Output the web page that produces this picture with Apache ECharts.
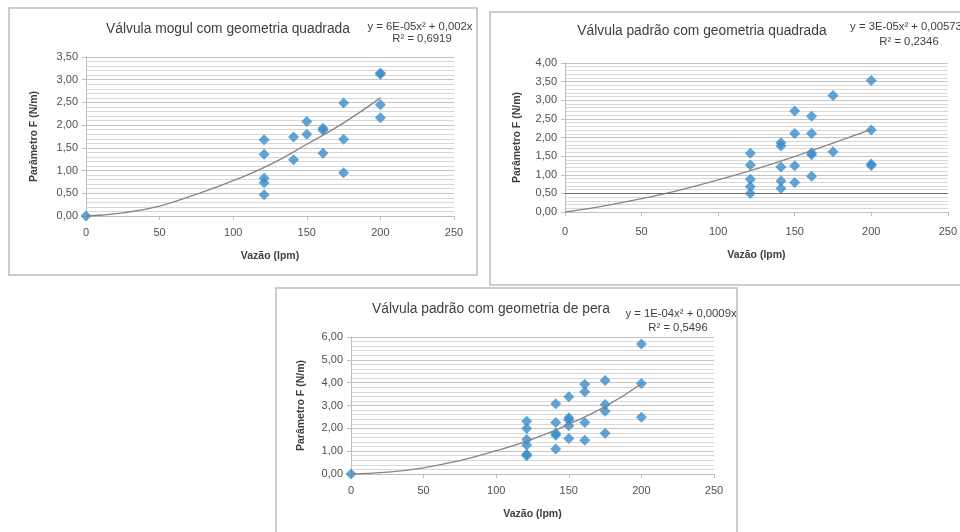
<!DOCTYPE html>
<html>
<head>
<meta charset="utf-8">
<script src="https://cdn.jsdelivr.net/npm/echarts@6/dist/echarts.min.js"></script>
<style>
html,body{margin:0;padding:0;background:#fff;}
#chart{width:960px;height:532px;}
</style>
</head>
<body>
<div id="chart"></div>
<script>
// ---- Data ----
// Chart 1: Válvula mogul com geometria quadrada
const mogulX = [0,121,121,121,121,121,141,141,150,150,161,161,161,175,175,175,200,200,200,200];
const mogulY = [0,1.68,1.36,0.83,0.73,0.47,1.74,1.24,2.08,1.80,1.93,1.89,1.38,2.49,1.69,0.95,3.15,3.12,2.45,2.16];
// Chart 2: Válvula padrão com geometria quadrada
const padraoX = [121,121,121,121,121,141,141,141,141,141,150,150,150,150,161,161,161,161,161,175,175,200,200,200,200];
const padraoY = [1.58,1.26,0.88,0.68,0.50,1.86,1.77,1.21,0.83,0.63,2.71,2.11,1.24,0.79,2.57,2.11,1.59,1.54,0.96,3.13,1.62,3.53,2.20,1.29,1.25];
// Chart 3: Válvula padrão com geometria de pera
const peraX = [0,121,121,121,121,121,121,141,141,141,141,141,150,150,150,150,150,161,161,161,161,175,175,175,175,200,200,200];
const peraY = [0,2.31,1.99,1.51,1.27,0.86,0.80,3.08,2.26,1.78,1.70,1.09,3.38,2.46,2.36,2.11,1.56,3.93,3.60,2.26,1.48,4.09,3.04,2.75,1.78,5.69,3.96,2.49];
// Trend lines
const trendX = [0,25,50,75,100,125,150,175,200];
const trend1Y = [0,0.07,0.22,0.48,0.78,1.13,1.58,2.05,2.60];
const trend2Y = [0,0.16,0.36,0.59,0.86,1.16,1.49,1.85,2.22];
const trend3Y = [0,0.08,0.27,0.59,1.02,1.53,2.18,2.95,3.95];
// Texts
const titles = ['Válvula mogul com geometria quadrada','Válvula padrão com geometria quadrada','Válvula padrão com geometria de pera'];
const equations = ['y = 6E-05x² + 0,002x','y = 3E-05x² + 0,00573','y = 1E-04x² + 0,0009x'];
const r2s = ['R² = 0,6919','R² = 0,2346','R² = 0,5496'];
const xName = 'Vazão (lpm)';
const yName = 'Parâmetro F (N/m)';
const yMaxes = [3.5, 4, 6];
const yIntervals = [0.5, 0.5, 1];
const xMax = 250, xInterval = 50;

const FONT = '"Liberation Sans", Arial, sans-serif';
const BLUE = '#3a8dca';
const DIAMOND = 'path://M0,-1L1,0L0,1L-1,0Z';
const chart = echarts.init(document.getElementById('chart'), null, {renderer:'canvas'});

const grids = [
  {left:86, top:57, right:506, bottom:316},
  {left:565, top:63, right:10, bottom:320},
  {left:351, top:337, right:246, bottom:58}
];
const xNameGaps = [35, 38, 35];
const yNameGaps = [46, 42, 44];
const xLabelMargins = [11, 14, 11];

function pair(xs, ys){ return xs.map((x,i)=>[x, ys[i]]); }

const xAxes = grids.map((g,i)=>({
  type:'value', gridIndex:i, min:0, max:xMax, interval:xInterval,
  name:xName, nameLocation:'middle', nameGap:xNameGaps[i],
  nameTextStyle:{fontFamily:FONT, fontSize:10.5, fontWeight:'bold', color:'#404040'},
  axisLine:{show:true, lineStyle:{color:'#bfbfbf', width:1}},
  axisTick:{show:true, length:4, lineStyle:{color:'#bfbfbf'}},
  axisLabel:{fontFamily:FONT, fontSize:11, color:'#505050', margin:xLabelMargins[i]},
  splitLine:{show:false}
}));
const yAxes = grids.map((g,i)=>({
  type:'value', gridIndex:i, min:0, max:yMaxes[i], interval:yIntervals[i],
  name:yName, nameLocation:'middle', nameGap:yNameGaps[i],
  nameTextStyle:{fontFamily:FONT, fontSize:10.5, fontWeight:'bold', color:'#404040'},
  axisLine:{show:true, lineStyle:{color:'#bfbfbf', width:1}},
  axisTick:{show:true, length:4, lineStyle:{color:'#bfbfbf'}},
  axisLabel:{fontFamily:FONT, fontSize:11, color:'#505050', margin:8,
    formatter:v=>v.toFixed(2).replace('.',',')},
  splitLine:{show:true, lineStyle:{color:'#c4c4c4', width:1}},
  minorTick:{show:false, splitNumber:5},
  minorSplitLine:{show:true, lineStyle:{color:'#d8d8d8', width:1}}
}));

const scatterData = [pair(mogulX,mogulY), pair(padraoX,padraoY), pair(peraX,peraY)];
const trendData = [pair(trendX,trend1Y), pair(trendX,trend2Y), pair(trendX,trend3Y)];

const series = [];
for (let i=0;i<3;i++){
  series.push({
    type:'scatter', xAxisIndex:i, yAxisIndex:i, data:scatterData[i],
    symbol:DIAMOND, symbolSize:[11,11],
    itemStyle:{color:BLUE},
    markLine: i===1 ? {silent:true, symbol:'none', label:{show:false},
      lineStyle:{color:'#6e6e6e', width:1, type:'solid'}, data:[{yAxis:0.5}]} : undefined,
    z:3
  });
  series.push({
    type:'line', xAxisIndex:i, yAxisIndex:i, data:trendData[i], smooth:true,
    showSymbol:false, symbol:'none',
    lineStyle:{color:'#858585', width:1.3}, z:4
  });
}

const boxes = [
  {x:9, y:8, w:468, h:267},
  {x:490, y:12, w:480, h:273},
  {x:276, y:288, w:461, h:260}
];
const titlePos = [[228,29],[702,31],[491,309]];
const eqPos = [[420,27],[906,27],[681,314]];
const r2Pos = [[422,39],[909,42],[678,328]];

const graphic = [];
boxes.forEach(b=>graphic.push({type:'rect', shape:{x:b.x, y:b.y, width:b.w, height:b.h},
  style:{fill:'none', stroke:'#bdbdbd', lineWidth:1.5}, z:0, silent:true}));
for (let i=0;i<3;i++){
  graphic.push({type:'text', x:titlePos[i][0], y:titlePos[i][1], z:10,
    style:{text:titles[i], font:'13.8px '+FONT, fill:'#404040', textAlign:'center', textVerticalAlign:'middle'}});
  graphic.push({type:'text', x:eqPos[i][0], y:eqPos[i][1], z:10,
    style:{text:equations[i], font:'11.3px '+FONT, fill:'#404040', textAlign:'center', textVerticalAlign:'middle'}});
  graphic.push({type:'text', x:r2Pos[i][0], y:r2Pos[i][1], z:10,
    style:{text:r2s[i], font:'11.3px '+FONT, fill:'#404040', textAlign:'center', textVerticalAlign:'middle'}});
}

chart.setOption({
  animation:false,
  backgroundColor:'#ffffff',
  grid:grids,
  xAxis:xAxes,
  yAxis:yAxes,
  series:series,
  graphic:graphic
});
</script>
</body>
</html>
